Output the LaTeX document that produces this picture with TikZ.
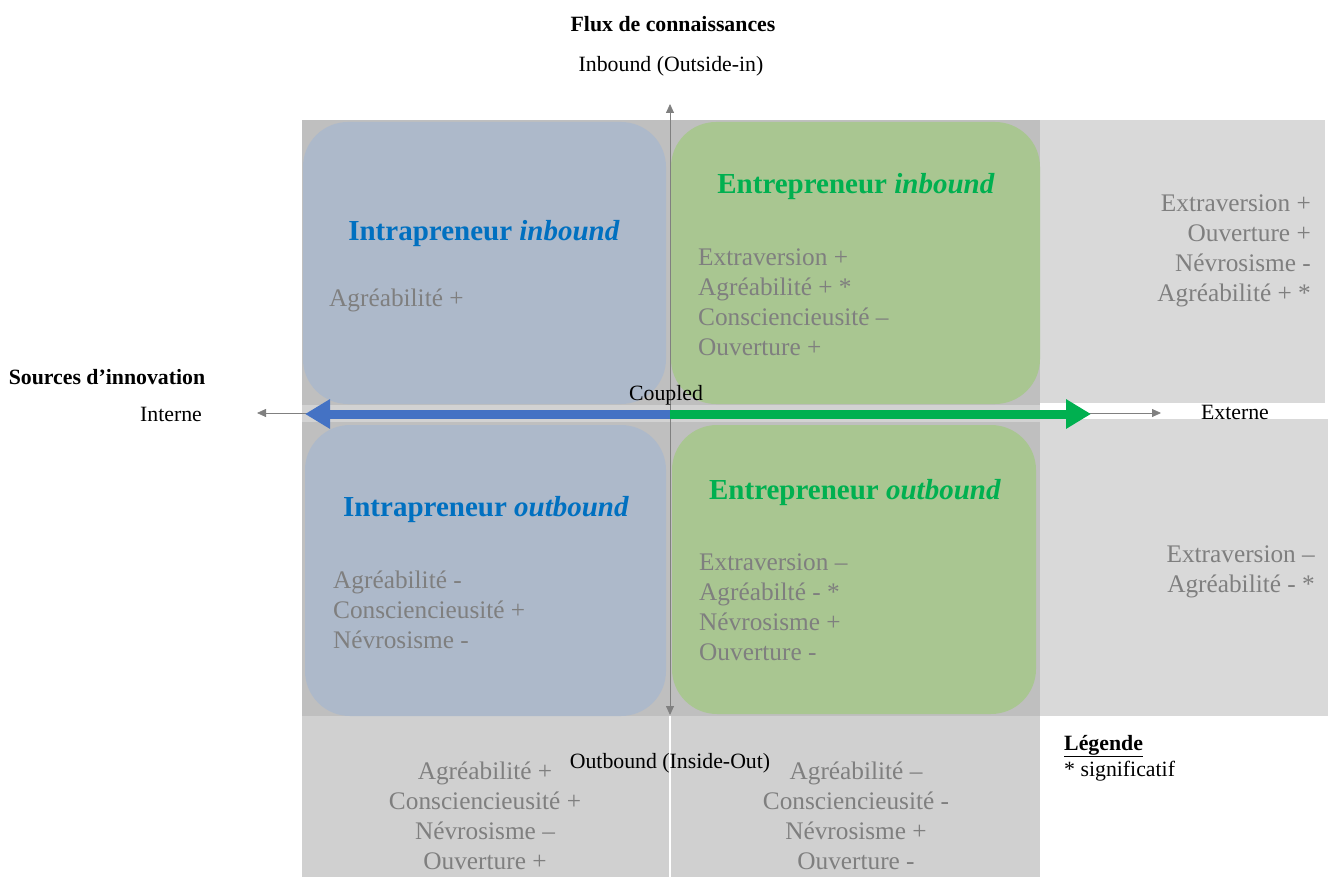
\documentclass[tikz,border=0pt]{standalone}
\usepackage{fontspec}
\setmainfont{Liberation Serif}
\usetikzlibrary{arrows.meta}
\definecolor{bgdark}{HTML}{BFBFBF}
\definecolor{bglight}{HTML}{D9D9D9}
\definecolor{bgbottom}{HTML}{D0D0D0}
\definecolor{bandc}{HTML}{D2D2D2}
\definecolor{boxblue}{HTML}{ADB9CA}
\definecolor{boxgreen}{HTML}{A9C691}
\definecolor{txtgray}{HTML}{7F7F7F}
\definecolor{ttlblue}{HTML}{0070C0}
\definecolor{ttlgreen}{HTML}{00B050}
\definecolor{arrblue}{HTML}{4472C4}
\definecolor{arrgreen}{HTML}{00B050}
\definecolor{axgray}{HTML}{808080}
\tikzset{
  quad/.style={rounded corners=45pt, draw=none},
  lst/.style={text=txtgray, font=\fontsize{25.3}{30}\selectfont, inner sep=0pt},
  ttl/.style={font=\fontsize{29}{34}\selectfont\bfseries, inner sep=0pt},
  axlbl/.style={font=\fontsize{21.8}{25}\selectfont, inner sep=0pt},
  axlblb/.style={font=\fontsize{21.8}{25}\selectfont\bfseries, inner sep=0pt},
  axline/.style={draw=axgray, line width=0.8pt, {Triangle[length=9pt,width=8pt]}-{Triangle[length=9pt,width=8pt]}},
  bigarrow/.style={line width=9pt, -{Triangle[length=25pt,width=28pt]}}
}
\begin{document}
\begin{tikzpicture}[x=1pt,y=-1pt]
\useasboundingbox (0,0) rectangle (1330,877);
% backgrounds
\fill[bgdark] (302,120) rectangle (1040,716);
\fill[bglight] (1040,120) rectangle (1325,403);
\fill[bglight] (1040,419) rectangle (1328,716);
\fill[bgbottom] (302,716) rectangle (1040,877);
\fill[bandc] (302,405) rectangle (1040,422);
\draw[white, line width=1.5pt] (670,716) -- (670,877);
% quadrant boxes
\fill[boxblue, quad] (303,122) rectangle (666,404);
\fill[boxgreen, quad] (671,122) rectangle (1040,404);
\fill[boxblue, quad] (305,425) rectangle (666,716);
\fill[boxgreen, quad] (672,425) rectangle (1036,714);
% axes
\coordinate (vtop) at (670,104);
\coordinate (vbot) at (670,715);
\coordinate (hleft) at (257,413);
\coordinate (hright) at (1161,413);
\coordinate (origin) at (670,414);
\coordinate (bluetip) at (305,414);
\coordinate (greentip) at (1091,414);
\draw[axline] (vbot) -- (vtop);
\draw[axline] (hleft) -- (hright);
\draw[bigarrow, arrblue] (origin) -- (bluetip);
\draw[bigarrow, arrgreen] (origin) -- (greentip);
% labels
\node[axlblb] (flux) at (673,24) {Flux de connaissances};
\node[axlbl] (inb) at (671,66) {Inbound (Outside-in)};
\node[axlbl] (outb) at (670,763) {Outbound (Inside-Out)};
\node[axlblb] (src) at (107,377) {Sources d’innovation};
\node[axlbl] (int) at (171,414) {Interne};
\node[axlbl] (ext) at (1235,412) {Externe};
\node[axlbl] (coup) at (666,395) {Coupled};
\node[axlbl, anchor=west] (leg) at (1064,746) {\textbf{\underline{Légende}}};
\node[axlbl, anchor=west] (sig) at (1064,771) {* significatif};
% titles
\node[ttl, text=ttlblue] (t1) at (484,234) {Intrapreneur \textit{inbound}};
\node[ttl, text=ttlgreen] (t2) at (856,187) {Entrepreneur \textit{inbound}};
\node[ttl, text=ttlblue] (t3) at (486,510) {Intrapreneur \textit{outbound}};
\node[ttl, text=ttlgreen] (t4) at (855,493) {Entrepreneur \textit{outbound}};
% lists
\node[lst, anchor=west] (l1) at (329,300) {Agréabilité +};
\node[lst, anchor=west, align=left] (l2) at (698,302) {Extraversion +\\Agréabilité + *\\Consciencieusité –\\Ouverture +};
\node[lst, anchor=east, align=right] (l3) at (1311,251) {Extraversion +\\Ouverture +\\Névrosisme -\\Agréabilité + *};
\node[lst, anchor=west, align=left] (l4) at (333,610) {Agréabilité -\\Consciencieusité +\\Névrosisme -};
\node[lst, anchor=west, align=left] (l5) at (699,607) {Extraversion –\\Agréabilté - *\\Névrosisme +\\Ouverture -};
\node[lst, anchor=east, align=right] (l6) at (1315,572) {Extraversion –\\Agréabilité - *};
\node[lst, align=center] (l7) at (485,816) {Agréabilité +\\Consciencieusité +\\Névrosisme –\\Ouverture +};
\node[lst, align=center] (l8) at (856,816) {Agréabilité –\\Consciencieusité -\\Névrosisme +\\Ouverture -};
\end{tikzpicture}
\end{document}
